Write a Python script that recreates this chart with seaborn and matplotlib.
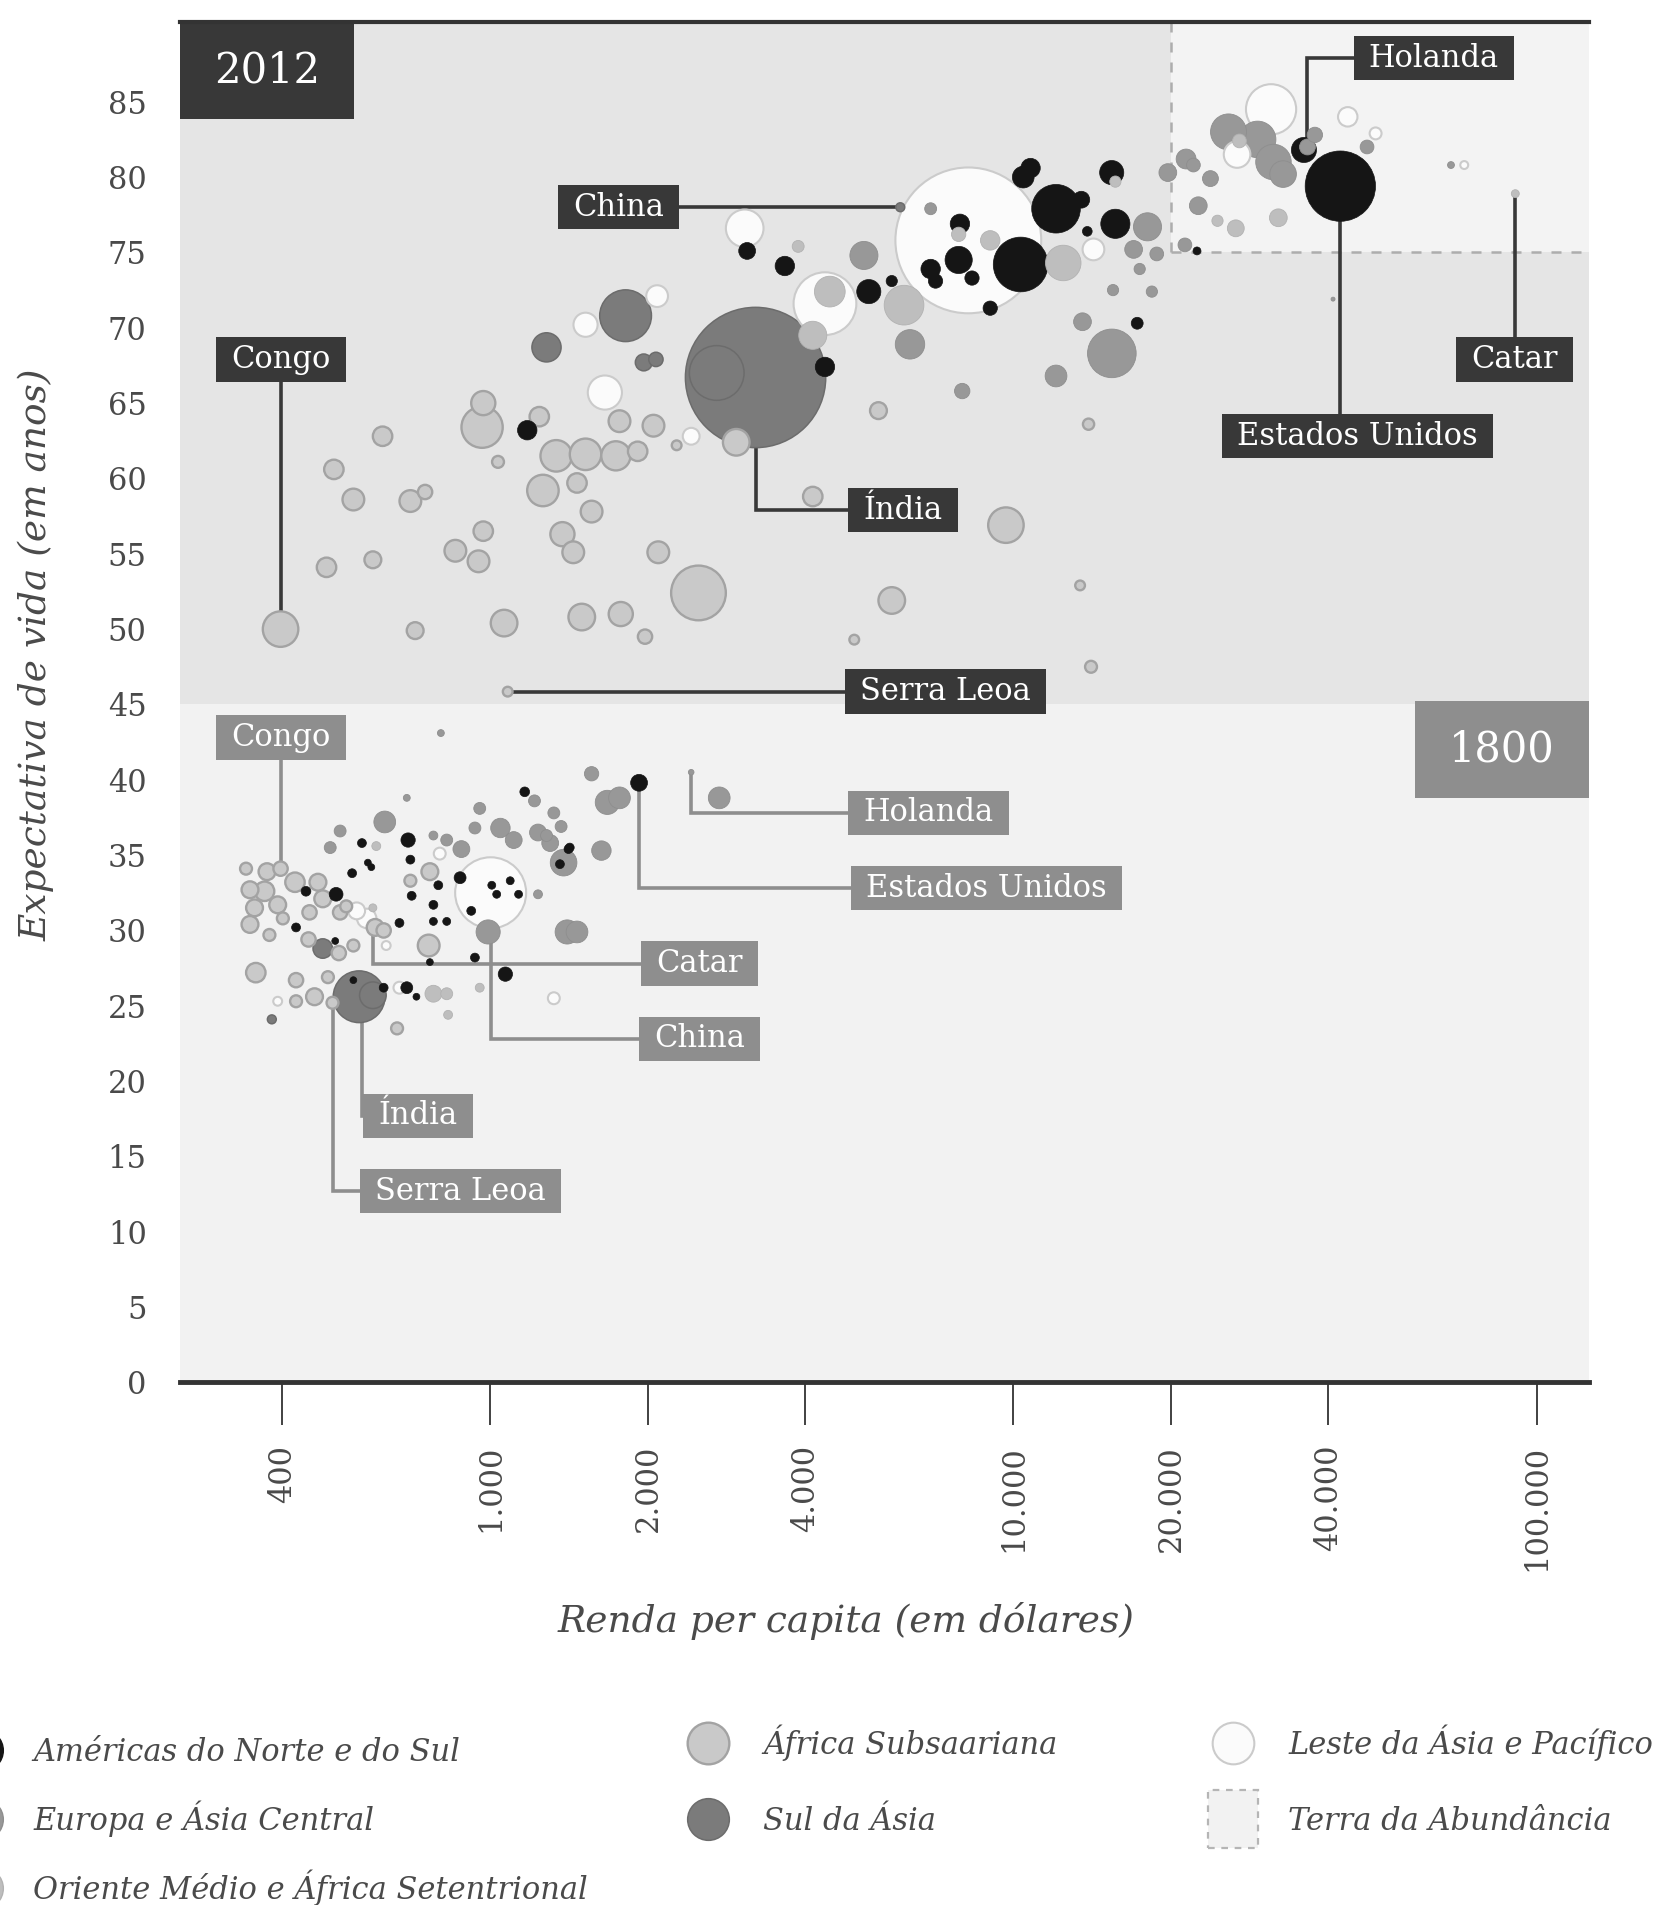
import numpy as np
import pandas as pd
import matplotlib
matplotlib.use("Agg")
import matplotlib.pyplot as plt
import seaborn as sns
from matplotlib.path import Path
from matplotlib.patches import Rectangle, Patch
from matplotlib.lines import Line2D
from matplotlib.legend_handler import HandlerPatch
from matplotlib.ticker import NullLocator

# ---------------- data ----------------
REGION_NAMES = {
    "AM": "Américas do Norte e do Sul",
    "EU": "Europa e Ásia Central",
    "ME": "Oriente Médio e África Setentrional",
    "AF": "África Subsaariana",
    "SA": "Sul da Ásia",
    "EA": "Leste da Ásia e Pacífico",
}
ABUNDANCE_LABEL = "Terra da Abundância"
abundance_income = 20000
abundance_life = 75
split_life = 45

# 2012 (region, income, life expectancy, population in millions)
region_2012 = (["AF"] * 44 + ["SA"] * 7 + ["EA"] * 13 + ["AM"] * 24 + ["EU"] * 28 + ["ME"] * 13)
income_2012 = [
    397, 486, 502, 547, 596, 622, 703, 750, 718, 857, 949, 969, 964, 969, 1034, 1062, 1079, 1240, 1260, 1336,
    1373, 1440, 1464, 1520, 1561, 1495, 1737, 1765, 1775, 1912, 1975, 2050, 2094, 2270, 2499, 2951, 4133, 5519,
    5852, 4961, 9673, 13407, 14069, 13917,
    3213, 2708, 1813, 1280, 1964, 2072, 6076,
    8197, 4361, 3063, 1655, 1520, 2083, 2420, 14220, 31080, 26760, 43560, 49240, 72740,
    42160, 35920, 12060, 10320, 15660, 15410, 10440, 10780, 13480, 7856, 7900, 6945, 7096, 8331, 9027, 13840,
    17240, 5289, 5852, 4361, 3655, 3096, 1176, 22430,
    15420, 6341, 5177, 12060, 13550, 7980, 18040, 16970, 18790, 15500, 18390, 17430, 21380, 19730, 22560,
    22080, 23800, 25770, 29290, 31410, 32770, 37690, 47420, 68620, 36480, 21270, 6945, 40830,
    6177, 12450, 4133, 9027, 7856, 3876, 15660, 4455, 24550, 26610, 32090, 27040, 91080,
]
life_2012 = [
    50.0, 54.1, 60.6, 58.6, 54.6, 62.8, 58.5, 59.1, 49.9, 55.2, 54.5, 56.5, 63.4, 65.0, 61.1, 50.4, 45.85, 64.1,
    59.2, 61.5, 56.3, 55.1, 59.7, 61.6, 57.8, 50.8, 61.5, 63.8, 51.0, 61.8, 49.5, 63.5, 55.1, 62.2, 52.4, 62.4,
    58.8, 64.5, 51.9, 49.3, 56.9, 52.9, 47.5, 63.6,
    66.7, 67.0, 70.8, 68.7, 67.7, 67.9, 78.0,
    75.8, 71.6, 76.6, 65.7, 70.2, 72.1, 62.8, 75.2, 84.5, 81.5, 84.0, 82.9, 80.8,
    79.4, 81.8, 77.9, 74.2, 76.9, 80.3, 80.0, 80.6, 78.5, 74.5, 76.9, 73.9, 73.1, 73.3, 71.3, 76.4, 70.3, 72.4,
    73.1, 67.4, 74.1, 75.1, 63.2, 75.1,
    68.3, 68.9, 74.8, 66.8, 70.4, 65.8, 76.7, 75.2, 74.9, 72.5, 72.4, 73.9, 81.2, 80.3, 78.1, 80.8, 79.9, 83.0,
    82.5, 81.0, 80.2, 82.8, 82.0, 80.8, 82.0, 75.5, 77.9, 71.9,
    71.5, 74.3, 69.5, 75.8, 76.2, 75.4, 79.7, 72.4, 77.1, 76.6, 77.3, 82.4, 78.9,
]
pop_2012 = [
    80, 24, 24, 30, 18, 24, 30, 13, 18, 30, 30, 24, 108, 37, 9, 45, 6, 24, 63, 63, 37, 30, 24, 63, 30, 45, 54, 30,
    37, 24, 13, 30, 30, 6, 190, 45, 24, 18, 45, 6, 80, 6, 9, 8,
    1250, 190, 170, 54, 18, 13, 5,
    1350, 250, 90, 74, 37, 30, 18, 30, 160, 45, 24, 9, 4,
    314, 40, 150, 190, 54, 37, 30, 24, 18, 47, 24, 24, 13, 13, 13, 6, 9, 37, 8, 24, 24, 18, 24, 4,
    150, 55, 50, 30, 20, 15, 50, 20, 12, 8, 8, 8, 25, 20, 20, 12, 16, 82, 85, 80, 45, 15, 12, 3, 16, 12, 9, 1,
    100, 80, 50, 24, 13, 9, 8, 60, 8, 18, 20, 12, 4,
]

# 1800
region_1800 = (["AF"] * 31 + ["SA"] * 4 + ["EA"] * 8 + ["AM"] * 34 + ["EU"] * 29 + ["ME"] * 6)
income_1800 = [
    397, 341, 374, 347, 370, 423, 354, 392, 347, 378, 401, 468, 478, 451, 516, 530, 602, 625, 449, 513, 547,
    356, 425, 461, 425, 489, 499, 663, 766, 703, 762,
    478, 382, 561, 596,
    555, 580, 392, 632, 670, 800, 1001, 1322,
    444, 507, 425, 505, 547, 625, 692, 722, 568, 583, 592, 544, 696, 703, 707, 670, 795, 778, 778, 825, 875,
    919, 766, 934, 1006, 1028, 1091, 1132, 1068, 1358, 1410, 1418, 1163, 1924,
    516, 494, 628, 778, 825, 880, 1233, 990, 1402, 1464, 1630, 1380, 1233, 1045, 1108, 1280, 1322, 1214, 1301,
    1365, 1561, 1673, 1765, 2738, 2420, 954, 934, 804, 692,
    778, 825, 596, 605, 954, 830,
]
life_1800 = [
    34.1, 34.1, 33.9, 32.7, 32.6, 33.2, 31.5, 31.7, 30.4, 29.7, 30.8, 33.2, 32.1, 31.2, 31.2, 31.6, 30.2, 30.0,
    29.4, 28.5, 29.0, 27.2, 26.7, 25.6, 25.3, 26.9, 25.2, 23.5, 33.9, 33.3, 29.0,
    28.8, 24.1, 25.6, 25.7,
    31.3, 30.8, 25.3, 29.0, 26.2, 35.1, 32.5, 25.5,
    32.6, 32.4, 30.2, 29.3, 26.7, 26.2, 26.2, 25.6, 35.8, 34.5, 34.2, 33.8, 36.0, 34.7, 32.3, 30.5, 33.0, 31.7,
    30.6, 30.6, 33.5, 31.3, 27.9, 28.2, 33.0, 32.4, 33.3, 32.4, 27.1, 34.4, 35.4, 35.5, 39.2, 39.8,
    36.6, 35.5, 37.2, 36.3, 36.0, 35.4, 32.4, 29.9, 29.9, 29.9, 35.3, 34.5, 36.5, 36.8, 36.0, 36.3, 37.8, 38.6,
    35.8, 36.9, 40.4, 38.5, 38.8, 38.8, 40.5, 38.1, 36.8, 43.1, 38.8,
    25.8, 25.8, 31.5, 35.6, 26.2, 24.4,
]
pop_1800 = [
    13, 9, 18, 18, 24, 24, 18, 18, 18, 9, 9, 18, 18, 13, 13, 9, 18, 13, 13, 13, 9, 24, 13, 18, 9, 9, 9, 9, 18,
    9, 30,
    24, 5, 170, 45,
    18, 24, 5, 5, 9, 9, 320, 9,
    6, 12, 5, 3, 3, 5, 9, 3, 5, 3, 3, 5, 13, 5, 5, 5, 5, 5, 4, 4, 9, 5, 3, 5, 4, 4, 4, 4, 13, 5, 5, 5, 6, 18,
    9, 9, 30, 5, 9, 18, 5, 37, 37, 30, 24, 45, 18, 24, 18, 9, 9, 9, 18, 9, 13, 37, 30, 30, 2, 9, 9, 3, 3,
    18, 9, 4, 5, 5, 5,
]

# annotations (country label, anchor income, anchor life, label income, label life)
lab_2012 = ["China", "Congo", "Índia", "Serra Leoa", "Holanda", "Estados Unidos", "Catar"]
anc_x_2012 = [6076, 397, 3213, 1079, 36480, 42160, 91080]
anc_y_2012 = [78.0, 50.0, 66.7, 45.85, 82.0, 79.4, 78.9]
lab_x_2012 = [1756, 397, 6143, 7405, 63640, 45430, 90640]
lab_y_2012 = [78.0, 67.9, 57.9, 45.85, 87.9, 62.8, 67.9]

lab_1800 = ["Congo", "Holanda", "Estados Unidos", "Catar", "China", "Índia", "Serra Leoa"]
anc_x_1800 = [397, 2420, 1924, 596, 1001, 568, 499]
anc_y_1800 = [34.1, 40.5, 39.8, 31.5, 32.5, 25.6, 25.2]
lab_x_1800 = [397, 6873, 8885, 2512, 2512, 726, 877]
lab_y_1800 = [42.8, 37.8, 32.8, 27.8, 22.8, 17.7, 12.7]

xticks = [400, 1000, 2000, 4000, 10000, 20000, 40000, 100000]
xtick_labels = ["400", "1.000", "2.000", "4.000", "10.000", "20.000", "40.000", "100.000"]
yticks = list(range(0, 90, 5))
ytick_labels = [str(v) for v in yticks]

# ---------------- style ----------------
sns.set_theme(style="white")
plt.rcParams["font.family"] = ["DejaVu Serif", "DejaVu Sans"]

FILL = {"AM": "#151515", "EU": "#989898", "ME": "#bebebe", "AF": "#c9c9c9", "SA": "#7b7b7b", "EA": "#fbfbfb"}
EDGE = {"AM": "#151515", "EU": "#8e8e8e", "ME": "#b2b2b2", "AF": "#a3a3a3", "SA": "#6c6c6c", "EA": "#cbcbcb"}
LW = {"AM": 0.5, "EU": 0.6, "ME": 0.6, "AF": 1.7, "SA": 1.1, "EA": 1.5}
DARK = "#383838"
MID = "#8e8e8e"
TXT = "#4a4a4a"

df = pd.concat([
    pd.DataFrame({"code": region_2012, "income": income_2012, "life": life_2012, "pop": pop_2012}),
    pd.DataFrame({"code": region_1800, "income": income_1800, "life": life_1800, "pop": pop_1800}),
], ignore_index=True)
df["region"] = df["code"].map(REGION_NAMES)
df = df.sort_values("pop", ascending=False, kind="stable").reset_index(drop=True)

fig = plt.figure(figsize=(16.53, 19.05), dpi=100)
ax = fig.add_axes([0.1089, 0.2743, 0.8524, 0.7142])
ax.set_xscale("log")
XMAX, YMAX = 126000, 90.3
ax.set_xlim(255, XMAX)
ax.set_ylim(0, YMAX)

# backgrounds
ax.set_facecolor("#f2f2f2")
ax.axhspan(split_life, YMAX, color="#e5e5e5", lw=0, zorder=0.1)
ax.fill_between([abundance_income, XMAX], abundance_life, YMAX, color="#f3f3f3", lw=0, zorder=0.2)
ax.plot([abundance_income, abundance_income], [abundance_life, YMAX], color="#adadad", lw=1.8,
        ls=(0, (4, 4)), zorder=0.3)
ax.plot([abundance_income, XMAX], [abundance_life, abundance_life], color="#adadad", lw=1.8,
        ls=(0, (4, 4)), zorder=0.3)

# leader lines
def leaders(ax_, ay_, lx_, ly_, color):
    for a, b, c, d in zip(ax_, ay_, lx_, ly_):
        ax.plot([a, a, c], [b, d, d], color=color, lw=2.6, zorder=1.2,
                solid_joinstyle="miter", solid_capstyle="butt")

leaders(anc_x_2012, anc_y_2012, lab_x_2012, lab_y_2012, DARK)
leaders(anc_x_1800, anc_y_1800, lab_x_1800, lab_y_1800, MID)

# bubbles
palette = {REGION_NAMES[k]: v for k, v in FILL.items()}
sns.scatterplot(data=df, x="income", y="life", hue="region", palette=palette, size="pop",
                sizes=(0, 11430), size_norm=(0, 1400), legend=False, ax=ax, linewidth=0.5)
pc = ax.collections[-1]
pc.set_edgecolors([EDGE[c] for c in df["code"]])
pc.set_linewidths([LW[c] for c in df["code"]])
pc.set_alpha(None)
pc.set_zorder(1.5)

# label boxes
def label_box(x0, y0, width, height, mutation_size):
    px = 0.5 * mutation_size
    py = 0.22 * mutation_size
    xa, ya = x0 - px, y0 - py
    xb, yb = x0 + width + px, y0 + height + py
    return Path([(xa, ya), (xb, ya), (xb, yb), (xa, yb), (xa, ya)],
                [Path.MOVETO, Path.LINETO, Path.LINETO, Path.LINETO, Path.CLOSEPOLY])

for name, x, y in zip(lab_2012, lab_x_2012, lab_y_2012):
    ax.text(x, y, name, ha="center", va="center", color="white", fontsize=22, zorder=6,
            bbox=dict(boxstyle=label_box, fc=DARK, ec="none"))
for name, x, y in zip(lab_1800, lab_x_1800, lab_y_1800):
    ax.text(x, y, name, ha="center", va="center", color="white", fontsize=22, zorder=6,
            bbox=dict(boxstyle=label_box, fc=MID, ec="none"))

# year boxes
ax.add_patch(Rectangle((0, 1 - 0.0714), 0.1233, 0.0714, transform=ax.transAxes, fc=DARK, ec="none",
                       zorder=6, clip_on=False))
ax.text(0.0616, 1 - 0.0357, "2012", transform=ax.transAxes, ha="center", va="center", color="white",
        fontsize=30, zorder=7)
ax.add_patch(Rectangle((0.8767, 38.8 / YMAX), 0.1233, 6.4 / YMAX, transform=ax.transAxes, fc=MID,
                       ec="none", zorder=6, clip_on=False))
ax.text(0.938, 42.0 / YMAX, "1800", transform=ax.transAxes, ha="center", va="center", color="white",
        fontsize=30, zorder=7)

# axes styling
for s in ["left", "right"]:
    ax.spines[s].set_visible(False)
ax.spines["top"].set_color("#333333")
ax.spines["top"].set_linewidth(3.0)
ax.spines["bottom"].set_color("#333333")
ax.spines["bottom"].set_linewidth(3.5)
ax.spines["top"].set_zorder(8)

ax.set_xticks(xticks)
ax.set_xticklabels(xtick_labels, rotation=90)
ax.xaxis.set_minor_locator(NullLocator())
ax.set_yticks(yticks)
ax.set_yticklabels(ytick_labels)
ax.tick_params(axis="x", direction="out", length=31, width=1.3, color="#333333", pad=14,
               labelsize=22, labelcolor=TXT, bottom=True)
ax.tick_params(axis="y", length=0, pad=24, labelsize=22, labelcolor=TXT, left=True)
ax.grid(False)

ax.set_xlabel("Renda per capita (em dólares)", fontsize=27, style="italic", color=TXT)
ax.set_ylabel("Expectativa de vida (em anos)", fontsize=27, style="italic", color=TXT)
ax.xaxis.set_label_coords(0.473, -0.161)
ax.yaxis.set_label_coords(-0.089, 0.535)

# legend
def circle(code):
    return Line2D([], [], ls="", marker="o", markersize=30, markerfacecolor=FILL[code],
                  markeredgecolor=EDGE[code], markeredgewidth=max(LW[code], 1.0))

def dashed_square(legend, orig_handle, xdescent, ydescent, width, height, fontsize):
    w, h = 36, 42
    cx = -xdescent + width / 2
    cy = -ydescent + height / 2
    return Rectangle((cx - w / 2, cy - h / 2), w, h)

abund_handle = Patch(facecolor="#f2f2f2", edgecolor="#b5b5b5", linestyle=(0, (3, 3)), linewidth=1.6)
leg_prop = {"family": "DejaVu Serif", "style": "italic", "size": 22}
common = dict(frameon=False, prop=leg_prop, handlelength=1.4, borderpad=0, borderaxespad=0,
              loc="center left")

legs = []
legs.append(fig.legend(handles=[circle("AM"), circle("EU"), circle("ME")],
                       labels=[REGION_NAMES["AM"], REGION_NAMES["EU"], REGION_NAMES["ME"]],
                       bbox_to_anchor=(-0.0240, 0.0439), handletextpad=0.99, labelspacing=1.07, **common))
legs.append(fig.legend(handles=[circle("AF"), circle("SA")],
                       labels=[REGION_NAMES["AF"], REGION_NAMES["SA"]],
                       bbox_to_anchor=(0.4154, 0.0654), handletextpad=1.1, labelspacing=1.47, **common))
legs.append(fig.legend(handles=[circle("EA"), abund_handle],
                       labels=[REGION_NAMES["EA"], ABUNDANCE_LABEL],
                       bbox_to_anchor=(0.733, 0.0654), handletextpad=1.1, labelspacing=1.47,
                       handler_map={Patch: HandlerPatch(patch_func=dashed_square)}, **common))
for lg in legs:
    for t in lg.get_texts():
        t.set_color(TXT)

fig.savefig("out.png", dpi=100, facecolor="white")
